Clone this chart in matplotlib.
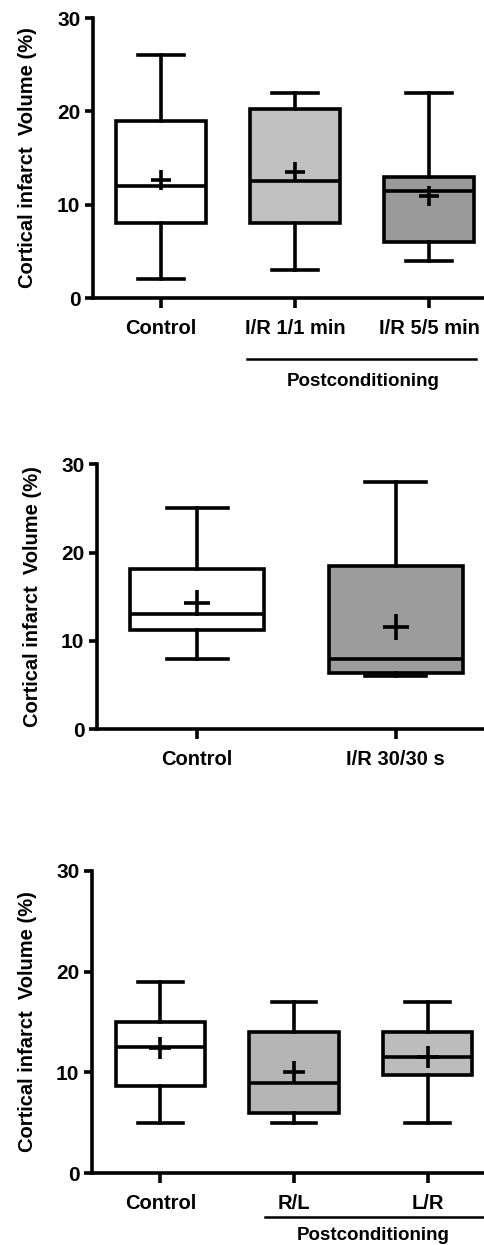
import matplotlib
matplotlib.use("Agg")
import matplotlib.pyplot as plt
import matplotlib.transforms as mtransforms

plt.rcParams['font.family'] = ['Liberation Sans', 'DejaVu Sans']
plt.rcParams['font.weight'] = 'bold'

# ---------- data ----------
p1_groups = ["Control", "I/R 1/1 min", "I/R 5/5 min"]
p1_whislo = [2, 3, 4]
p1_q1 = [8, 8, 6]
p1_med = [12, 12.5, 11.5]
p1_q3 = [19, 20.2, 13]
p1_whishi = [26, 22, 22]
p1_mean = [12.6, 13.5, 10.9]

p2_groups = ["Control", "I/R 30/30 s"]
p2_whislo = [8, 6]
p2_q1 = [11.2, 6.4]
p2_med = [13, 8]
p2_q3 = [18.2, 18.5]
p2_whishi = [25, 28]
p2_mean = [14.3, 11.6]

p3_groups = ["Control", "R/L", "L/R"]
p3_whislo = [5, 5, 5]
p3_q1 = [8.7, 6, 9.7]
p3_med = [12.5, 9, 11.5]
p3_q3 = [15, 14, 14]
p3_whishi = [19, 17, 17]
p3_mean = [12.4, 10, 11.5]

ylabel = "Cortical infarct  Volume (%)"
group_label = "Postconditioning"

LW = 2.6


def make_stats(groups, whislo, q1, med, q3, whishi, mean):
    stats = []
    for i in range(len(groups)):
        stats.append(dict(label=groups[i], whislo=whislo[i], q1=q1[i], med=med[i],
                          q3=q3[i], whishi=whishi[i], mean=mean[i], fliers=[]))
    return stats


def draw_panel(ax, stats, colors, box_w, cap_w, xlim, mean_size):
    pos = list(range(1, len(stats) + 1))
    bp = ax.bxp(stats, positions=pos, widths=box_w, capwidths=cap_w,
                patch_artist=True, showmeans=True, showfliers=False,
                boxprops=dict(linewidth=LW, edgecolor='black'),
                whiskerprops=dict(linewidth=LW, color='black'),
                capprops=dict(linewidth=LW, color='black'),
                medianprops=dict(linewidth=LW, color='black'),
                meanprops=dict(marker='+', markersize=mean_size, markeredgewidth=LW,
                               markeredgecolor='black'))
    for patch, c in zip(bp['boxes'], colors):
        patch.set_facecolor(c)
    ax.set_xlim(*xlim)
    ax.set_ylim(0, 30)
    ax.set_yticks([0, 10, 20, 30])
    ax.set_xticks(pos)
    ax.set_xticklabels([s['label'] for s in stats], fontsize=14.5, fontweight='bold')
    for lab in ax.get_yticklabels():
        lab.set_fontsize(15)
        lab.set_fontweight('bold')
    ax.spines['top'].set_visible(False)
    ax.spines['right'].set_visible(False)
    ax.spines['left'].set_linewidth(LW)
    ax.spines['bottom'].set_linewidth(LW)
    ax.tick_params(axis='y', direction='out', length=6, width=LW, pad=3)
    ax.tick_params(axis='x', direction='out', length=7, width=LW, pad=8)
    ax.set_ylabel(ylabel, fontsize=14.5, fontweight='bold')


def group_bracket(ax, x0, x1, y_line, y_text, x_text):
    trans = mtransforms.blended_transform_factory(ax.transData, ax.transAxes)
    ax.plot([x0, x1], [y_line, y_line], color='black', lw=1.8,
            transform=trans, clip_on=False)
    ax.text(x_text, y_text, group_label, transform=trans, ha='center', va='center',
            fontsize=13.5, fontweight='bold')


fig = plt.figure(figsize=(4.85, 12.45), dpi=100)

ax1 = fig.add_axes([93 / 485, 1 - 298 / 1245, 1 - 93 / 485, 280 / 1245])
draw_panel(ax1, make_stats(p1_groups, p1_whislo, p1_q1, p1_med, p1_q3, p1_whishi, p1_mean),
           ['white', '#c0c0c0', '#9a9a9a'], 0.67, 0.34, (0.4925, 3.418), 15)
ax1.yaxis.set_label_coords(-0.143, 0.5)
group_bracket(ax1, 1.642, 3.35, -0.218, -0.299, 2.507)

ax2 = fig.add_axes([97 / 485, 1 - 729.3 / 1245, 1 - 97 / 485, 265 / 1245])
draw_panel(ax2, make_stats(p2_groups, p2_whislo, p2_q1, p2_med, p2_q3, p2_whishi, p2_mean),
           ['white', '#9c9c9c'], 0.674, 0.307, (0.4967, 2.449), 19)
ax2.yaxis.set_label_coords(-0.142, 0.5)

ax3 = fig.add_axes([92 / 485, 1 - 1173.3 / 1245, 1 - 92 / 485, 302.6 / 1245])
draw_panel(ax3, make_stats(p3_groups, p3_whislo, p3_q1, p3_med, p3_q3, p3_whishi, p3_mean),
           ['white', '#b4b4b4', '#bcbcbc'], 0.67, 0.334, (0.489, 3.429), 15.5)
ax3.yaxis.set_label_coords(-0.140, 0.5)
group_bracket(ax3, 1.783, 3.429, -0.1434, -0.204, 2.59)

fig.savefig("out.png", dpi=100)
